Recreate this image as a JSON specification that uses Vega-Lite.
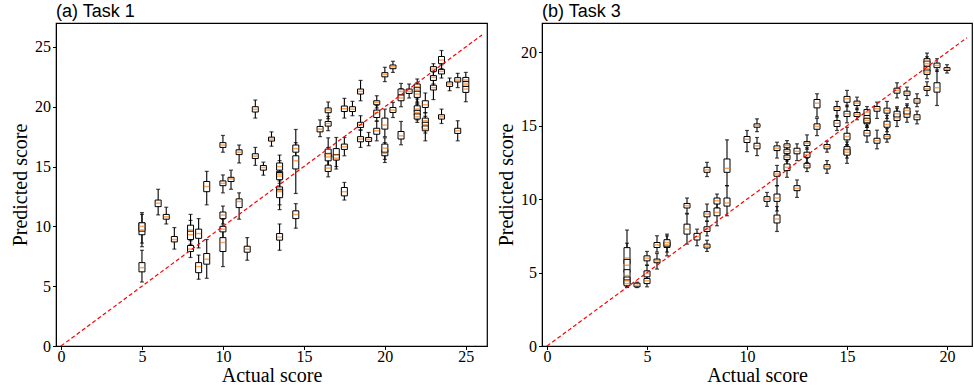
{
  "$schema": "https://vega.github.io/schema/vega-lite/v6.json",
  "background": "white",
  "padding": {"left": 9, "top": 2, "right": 1, "bottom": 2},
  "spacing": 7,
  "config": {
    "view": {"stroke": "black", "strokeWidth": 1.2},
    "axis": {"grid": false, "domainColor": "black", "tickColor": "black", "tickSize": 3.5, "labelFont": "Liberation Serif", "labelFontSize": 16, "labelColor": "black", "titleFont": "Liberation Serif", "titleFontSize": 20, "titleFontWeight": "normal", "titleColor": "black", "labelPadding": 2, "titlePadding": 4},
    "axisX": {"labelPadding": -1, "titlePadding": 1},
    "title": {"font": "Liberation Sans", "fontSize": 18, "fontWeight": "normal", "color": "black", "anchor": "start", "frame": "group", "offset": 2}
  },
  "datasets": {
    "t1": [
      {"x": 5, "lo": 8.3, "q1": 9.3, "med": 9.7, "q3": 10.3, "hi": 11.15},
      {"x": 5, "lo": 8.6, "q1": 9.6, "med": 10.0, "q3": 10.3, "hi": 11.0},
      {"x": 5, "lo": 5.35, "q1": 6.2, "med": 6.55, "q3": 6.97, "hi": 8.0},
      {"x": 6, "lo": 10.96, "q1": 11.65, "med": 11.94, "q3": 12.2, "hi": 13.1},
      {"x": 6.5, "lo": 10.2, "q1": 10.6, "med": 10.8, "q3": 11.0, "hi": 11.6},
      {"x": 7, "lo": 8.1, "q1": 8.7, "med": 8.9, "q3": 9.15, "hi": 9.9},
      {"x": 8, "lo": 8.5, "q1": 9.3, "med": 9.7, "q3": 10.1, "hi": 11.0},
      {"x": 8, "lo": 8.0, "q1": 8.9, "med": 9.3, "q3": 9.6, "hi": 10.5},
      {"x": 8, "lo": 7.4, "q1": 7.9, "med": 8.1, "q3": 8.4, "hi": 8.8},
      {"x": 8.5, "lo": 8.2, "q1": 9.0, "med": 9.4, "q3": 9.77, "hi": 10.65},
      {"x": 8.5, "lo": 5.58, "q1": 6.13, "med": 6.64, "q3": 6.97, "hi": 7.6},
      {"x": 9, "lo": 11.8, "q1": 12.9, "med": 13.33, "q3": 13.75, "hi": 14.6},
      {"x": 9, "lo": 5.66, "q1": 6.84, "med": 7.25, "q3": 7.73, "hi": 8.9},
      {"x": 10, "lo": 16.2, "q1": 16.6, "med": 16.8, "q3": 17.0, "hi": 17.6},
      {"x": 10, "lo": 12.8, "q1": 13.4, "med": 13.6, "q3": 13.8, "hi": 14.3},
      {"x": 10, "lo": 10.2, "q1": 10.65, "med": 10.94, "q3": 11.2, "hi": 11.7},
      {"x": 10, "lo": 9.0, "q1": 9.54, "med": 9.77, "q3": 10.0, "hi": 10.6},
      {"x": 10, "lo": 6.64, "q1": 7.9, "med": 8.65, "q3": 9.06, "hi": 10.0},
      {"x": 10.5, "lo": 13.1, "q1": 13.75, "med": 13.97, "q3": 14.1, "hi": 14.7},
      {"x": 11, "lo": 15.3, "q1": 16.0, "med": 16.2, "q3": 16.4, "hi": 16.8},
      {"x": 11, "lo": 10.6, "q1": 11.57, "med": 12.08, "q3": 12.3, "hi": 12.8},
      {"x": 11.5, "lo": 7.17, "q1": 7.84, "med": 8.1, "q3": 8.34, "hi": 9.06},
      {"x": 12, "lo": 19.05, "q1": 19.56, "med": 19.78, "q3": 20.0, "hi": 20.56},
      {"x": 12, "lo": 15.1, "q1": 15.67, "med": 15.87, "q3": 16.07, "hi": 16.6},
      {"x": 12.5, "lo": 14.28, "q1": 14.7, "med": 14.92, "q3": 15.09, "hi": 15.37},
      {"x": 13, "lo": 16.7, "q1": 17.13, "med": 17.3, "q3": 17.46, "hi": 17.9},
      {"x": 13.5, "lo": 13.8, "q1": 14.7, "med": 15.0, "q3": 15.3, "hi": 15.96},
      {"x": 13.5, "lo": 13.0, "q1": 14.0, "med": 14.37, "q3": 14.6, "hi": 15.5},
      {"x": 13.5, "lo": 12.5, "q1": 13.9, "med": 14.2, "q3": 14.5, "hi": 15.2},
      {"x": 13.5, "lo": 11.4, "q1": 12.6, "med": 13.0, "q3": 13.3, "hi": 14.0},
      {"x": 13.5, "lo": 11.8, "q1": 12.4, "med": 12.9, "q3": 13.1, "hi": 13.6},
      {"x": 13.5, "lo": 8.0, "q1": 8.85, "med": 9.1, "q3": 9.4, "hi": 10.2},
      {"x": 14.5, "lo": 15.0, "q1": 16.2, "med": 16.5, "q3": 16.8, "hi": 18.1},
      {"x": 14.5, "lo": 12.75, "q1": 14.8, "med": 15.48, "q3": 15.9, "hi": 17.0},
      {"x": 14.5, "lo": 9.85, "q1": 10.65, "med": 10.99, "q3": 11.3, "hi": 11.9},
      {"x": 16, "lo": 17.5, "q1": 17.9, "med": 18.13, "q3": 18.35, "hi": 18.9},
      {"x": 16.5, "lo": 19.0, "q1": 19.5, "med": 19.72, "q3": 19.9, "hi": 20.4},
      {"x": 16.5, "lo": 18.0, "q1": 18.38, "med": 18.6, "q3": 18.77, "hi": 19.2},
      {"x": 16.5, "lo": 15.0, "q1": 15.8, "med": 16.04, "q3": 16.46, "hi": 17.4},
      {"x": 16.5, "lo": 14.8, "q1": 15.48, "med": 15.8, "q3": 16.1, "hi": 16.6},
      {"x": 16.5, "lo": 14.14, "q1": 14.59, "med": 14.87, "q3": 15.12, "hi": 15.6},
      {"x": 17, "lo": 15.0, "q1": 15.7, "med": 15.96, "q3": 16.5, "hi": 17.43},
      {"x": 17, "lo": 14.79, "q1": 15.54, "med": 15.7, "q3": 16.0, "hi": 16.5},
      {"x": 17.5, "lo": 19.05, "q1": 19.6, "med": 19.83, "q3": 20.06, "hi": 20.7},
      {"x": 17.5, "lo": 15.9, "q1": 16.43, "med": 16.65, "q3": 16.88, "hi": 17.43},
      {"x": 17.5, "lo": 12.2, "q1": 12.55, "med": 12.9, "q3": 13.25, "hi": 13.67},
      {"x": 18, "lo": 19.25, "q1": 19.6, "med": 19.8, "q3": 20.0, "hi": 20.45},
      {"x": 18.5, "lo": 20.5, "q1": 21.06, "med": 21.28, "q3": 21.48, "hi": 22.2},
      {"x": 18.5, "lo": 18.05, "q1": 18.27, "med": 18.5, "q3": 18.7, "hi": 19.25},
      {"x": 18.5, "lo": 16.6, "q1": 17.07, "med": 17.3, "q3": 17.5, "hi": 18.05},
      {"x": 19, "lo": 16.74, "q1": 17.1, "med": 17.27, "q3": 17.43, "hi": 17.85},
      {"x": 19.5, "lo": 19.9, "q1": 20.17, "med": 20.36, "q3": 20.5, "hi": 20.92},
      {"x": 19.5, "lo": 18.8, "q1": 19.1, "med": 19.52, "q3": 19.72, "hi": 20.1},
      {"x": 19.5, "lo": 17.15, "q1": 17.7, "med": 17.99, "q3": 18.2, "hi": 18.8},
      {"x": 20, "lo": 22.1, "q1": 22.5, "med": 22.7, "q3": 22.85, "hi": 23.3},
      {"x": 20, "lo": 17.5, "q1": 18.13, "med": 18.47, "q3": 19.05, "hi": 19.8},
      {"x": 20, "lo": 15.34, "q1": 15.9, "med": 16.1, "q3": 16.4, "hi": 17.0},
      {"x": 20, "lo": 15.6, "q1": 16.2, "med": 16.54, "q3": 16.88, "hi": 17.4},
      {"x": 20.5, "lo": 22.87, "q1": 23.18, "med": 23.35, "q3": 23.49, "hi": 23.8},
      {"x": 20.5, "lo": 19.1, "q1": 19.52, "med": 19.72, "q3": 19.94, "hi": 20.36},
      {"x": 21, "lo": 20.0, "q1": 20.5, "med": 20.73, "q3": 21.0, "hi": 21.5},
      {"x": 21, "lo": 20.6, "q1": 21.0, "med": 21.28, "q3": 21.48, "hi": 21.95},
      {"x": 21, "lo": 16.82, "q1": 17.3, "med": 17.57, "q3": 17.93, "hi": 18.77},
      {"x": 21.5, "lo": 20.73, "q1": 21.11, "med": 21.28, "q3": 21.48, "hi": 21.9},
      {"x": 22, "lo": 21.2, "q1": 21.5, "med": 21.67, "q3": 21.9, "hi": 22.32},
      {"x": 22, "lo": 20.4, "q1": 21.2, "med": 21.4, "q3": 21.6, "hi": 22.0},
      {"x": 22, "lo": 20.3, "q1": 20.78, "med": 21.06, "q3": 21.3, "hi": 21.7},
      {"x": 22, "lo": 19.2, "q1": 19.6, "med": 19.8, "q3": 20.08, "hi": 20.64},
      {"x": 22, "lo": 18.9, "q1": 19.3, "med": 19.52, "q3": 19.7, "hi": 20.2},
      {"x": 22, "lo": 18.69, "q1": 18.97, "med": 19.16, "q3": 19.4, "hi": 19.8},
      {"x": 22.5, "lo": 19.5, "q1": 19.94, "med": 20.17, "q3": 20.5, "hi": 21.15},
      {"x": 22.5, "lo": 18.3, "q1": 18.6, "med": 18.83, "q3": 19.05, "hi": 19.5},
      {"x": 22.5, "lo": 17.8, "q1": 18.2, "med": 18.5, "q3": 18.7, "hi": 19.2},
      {"x": 22.5, "lo": 17.15, "q1": 17.99, "med": 18.13, "q3": 18.4, "hi": 18.9},
      {"x": 23, "lo": 22.6, "q1": 22.96, "med": 23.15, "q3": 23.35, "hi": 23.6},
      {"x": 23, "lo": 21.9, "q1": 22.2, "med": 22.45, "q3": 22.6, "hi": 22.9},
      {"x": 23, "lo": 20.6, "q1": 21.4, "med": 21.6, "q3": 21.8, "hi": 22.2},
      {"x": 23.5, "lo": 23.2, "q1": 23.6, "med": 23.9, "q3": 24.2, "hi": 24.7},
      {"x": 23.5, "lo": 22.4, "q1": 22.74, "med": 22.96, "q3": 23.12, "hi": 23.5},
      {"x": 23.5, "lo": 18.6, "q1": 18.97, "med": 19.16, "q3": 19.33, "hi": 19.8},
      {"x": 24, "lo": 21.34, "q1": 21.7, "med": 21.9, "q3": 22.07, "hi": 22.4},
      {"x": 24.5, "lo": 21.6, "q1": 22.07, "med": 22.23, "q3": 22.43, "hi": 22.79},
      {"x": 24.5, "lo": 17.15, "q1": 17.77, "med": 17.99, "q3": 18.2, "hi": 18.83},
      {"x": 25, "lo": 21.8, "q1": 22.1, "med": 22.23, "q3": 22.45, "hi": 22.87},
      {"x": 25, "lo": 21.2, "q1": 21.7, "med": 21.9, "q3": 22.1, "hi": 22.4},
      {"x": 25, "lo": 20.42, "q1": 21.2, "med": 21.48, "q3": 21.7, "hi": 22.1}
    ],
    "t3": [
      {"x": 4, "lo": 4.4, "q1": 5.6, "med": 6.0, "q3": 6.7, "hi": 7.9},
      {"x": 4, "lo": 4.2, "q1": 5.0, "med": 5.5, "q3": 5.9, "hi": 7.0},
      {"x": 4, "lo": 4.0, "q1": 4.5, "med": 4.8, "q3": 5.2, "hi": 6.0},
      {"x": 4, "lo": 4.0, "q1": 4.2, "med": 4.44, "q3": 4.7, "hi": 5.3},
      {"x": 4, "lo": 4.0, "q1": 4.1, "med": 4.25, "q3": 4.5, "hi": 5.0},
      {"x": 4.5, "lo": 3.98, "q1": 4.03, "med": 4.14, "q3": 4.28, "hi": 4.35},
      {"x": 5, "lo": 5.5, "q1": 5.8, "med": 5.98, "q3": 6.14, "hi": 6.44},
      {"x": 5, "lo": 4.4, "q1": 4.71, "med": 4.94, "q3": 5.12, "hi": 5.5},
      {"x": 5, "lo": 4.03, "q1": 4.25, "med": 4.44, "q3": 4.6, "hi": 4.9},
      {"x": 5.5, "lo": 6.4, "q1": 6.71, "med": 6.89, "q3": 7.05, "hi": 7.51},
      {"x": 5.5, "lo": 5.24, "q1": 5.67, "med": 5.8, "q3": 5.92, "hi": 6.3},
      {"x": 6, "lo": 6.14, "q1": 6.71, "med": 6.89, "q3": 7.1, "hi": 7.5},
      {"x": 6, "lo": 6.4, "q1": 6.8, "med": 7.05, "q3": 7.24, "hi": 7.62},
      {"x": 7, "lo": 9.03, "q1": 9.4, "med": 9.56, "q3": 9.71, "hi": 10.08},
      {"x": 7, "lo": 6.94, "q1": 7.62, "med": 7.96, "q3": 8.3, "hi": 8.99},
      {"x": 7.5, "lo": 6.83, "q1": 7.22, "med": 7.46, "q3": 7.67, "hi": 7.96},
      {"x": 8, "lo": 11.54, "q1": 11.83, "med": 11.99, "q3": 12.17, "hi": 12.51},
      {"x": 8, "lo": 8.5, "q1": 8.8, "med": 8.99, "q3": 9.15, "hi": 9.67},
      {"x": 8, "lo": 7.5, "q1": 7.8, "med": 7.96, "q3": 8.12, "hi": 8.5},
      {"x": 8, "lo": 6.44, "q1": 6.67, "med": 6.8, "q3": 6.94, "hi": 7.2},
      {"x": 8.5, "lo": 9.4, "q1": 9.67, "med": 9.9, "q3": 10.08, "hi": 10.35},
      {"x": 8.5, "lo": 8.19, "q1": 8.87, "med": 9.1, "q3": 9.4, "hi": 9.8},
      {"x": 9, "lo": 10.92, "q1": 11.83, "med": 12.1, "q3": 12.74, "hi": 14.04},
      {"x": 9, "lo": 8.87, "q1": 9.53, "med": 9.74, "q3": 10.08, "hi": 10.92},
      {"x": 10, "lo": 13.24, "q1": 13.86, "med": 14.08, "q3": 14.27, "hi": 14.68},
      {"x": 10.5, "lo": 14.6, "q1": 14.9, "med": 15.02, "q3": 15.13, "hi": 15.47},
      {"x": 10.5, "lo": 12.97, "q1": 13.43, "med": 13.63, "q3": 13.81, "hi": 14.2},
      {"x": 11, "lo": 9.51, "q1": 9.85, "med": 10.01, "q3": 10.17, "hi": 10.46},
      {"x": 11.5, "lo": 12.8, "q1": 13.31, "med": 13.47, "q3": 13.63, "hi": 13.88},
      {"x": 11.5, "lo": 10.92, "q1": 11.56, "med": 11.72, "q3": 11.88, "hi": 12.3},
      {"x": 11.5, "lo": 9.2, "q1": 9.85, "med": 10.08, "q3": 10.35, "hi": 10.92},
      {"x": 11.5, "lo": 7.8, "q1": 8.38, "med": 8.65, "q3": 8.92, "hi": 9.5},
      {"x": 12, "lo": 13.1, "q1": 13.5, "med": 13.65, "q3": 13.77, "hi": 13.99},
      {"x": 12, "lo": 12.6, "q1": 13.1, "med": 13.26, "q3": 13.4, "hi": 13.7},
      {"x": 12, "lo": 12.2, "q1": 12.7, "med": 12.85, "q3": 13.0, "hi": 13.3},
      {"x": 12, "lo": 11.49, "q1": 11.95, "med": 12.17, "q3": 12.4, "hi": 12.8},
      {"x": 12.5, "lo": 12.63, "q1": 13.09, "med": 13.26, "q3": 13.47, "hi": 13.77},
      {"x": 12.5, "lo": 10.12, "q1": 10.58, "med": 10.74, "q3": 10.92, "hi": 11.31},
      {"x": 13, "lo": 13.4, "q1": 13.65, "med": 13.81, "q3": 13.92, "hi": 14.38},
      {"x": 13, "lo": 12.5, "q1": 12.85, "med": 13.02, "q3": 13.2, "hi": 13.5},
      {"x": 13, "lo": 11.88, "q1": 12.13, "med": 12.29, "q3": 12.44, "hi": 12.8},
      {"x": 13.5, "lo": 15.6, "q1": 16.22, "med": 16.54, "q3": 16.79, "hi": 17.18},
      {"x": 13.5, "lo": 14.33, "q1": 14.76, "med": 14.95, "q3": 15.13, "hi": 15.5},
      {"x": 14, "lo": 13.2, "q1": 13.43, "med": 13.58, "q3": 13.72, "hi": 13.95},
      {"x": 14, "lo": 11.76, "q1": 12.06, "med": 12.22, "q3": 12.35, "hi": 12.63},
      {"x": 14.5, "lo": 15.6, "q1": 16.04, "med": 16.2, "q3": 16.31, "hi": 16.66},
      {"x": 14.5, "lo": 14.68, "q1": 14.95, "med": 15.17, "q3": 15.36, "hi": 15.7},
      {"x": 15, "lo": 16.3, "q1": 16.6, "med": 16.84, "q3": 17.0, "hi": 17.41},
      {"x": 15, "lo": 15.2, "q1": 15.63, "med": 15.82, "q3": 15.99, "hi": 16.4},
      {"x": 15, "lo": 13.7, "q1": 14.04, "med": 14.27, "q3": 14.49, "hi": 14.9},
      {"x": 15, "lo": 12.44, "q1": 13.04, "med": 13.36, "q3": 13.58, "hi": 13.9},
      {"x": 15, "lo": 12.8, "q1": 13.0, "med": 13.2, "q3": 13.4, "hi": 13.7},
      {"x": 15.5, "lo": 16.1, "q1": 16.38, "med": 16.54, "q3": 16.68, "hi": 16.95},
      {"x": 15.5, "lo": 15.41, "q1": 15.63, "med": 15.77, "q3": 15.9, "hi": 16.2},
      {"x": 16, "lo": 15.5, "q1": 15.7, "med": 15.93, "q3": 16.11, "hi": 16.31},
      {"x": 16, "lo": 14.9, "q1": 15.13, "med": 15.54, "q3": 15.7, "hi": 16.0},
      {"x": 16, "lo": 14.9, "q1": 15.2, "med": 15.36, "q3": 15.5, "hi": 15.8},
      {"x": 16, "lo": 13.88, "q1": 14.31, "med": 14.49, "q3": 14.68, "hi": 15.0},
      {"x": 16.5, "lo": 15.5, "q1": 15.99, "med": 16.16, "q3": 16.31, "hi": 16.61},
      {"x": 16.5, "lo": 13.43, "q1": 13.81, "med": 13.99, "q3": 14.15, "hi": 14.7},
      {"x": 17, "lo": 15.5, "q1": 15.86, "med": 16.04, "q3": 16.2, "hi": 16.66},
      {"x": 17, "lo": 14.6, "q1": 14.9, "med": 15.09, "q3": 15.31, "hi": 15.7},
      {"x": 17, "lo": 13.88, "q1": 14.11, "med": 14.27, "q3": 14.4, "hi": 14.8},
      {"x": 17.5, "lo": 16.9, "q1": 17.22, "med": 17.41, "q3": 17.56, "hi": 17.93},
      {"x": 17.5, "lo": 14.95, "q1": 15.36, "med": 15.54, "q3": 15.8, "hi": 16.2},
      {"x": 17.5, "lo": 15.4, "q1": 15.6, "med": 15.82, "q3": 15.99, "hi": 16.3},
      {"x": 18, "lo": 16.8, "q1": 17.07, "med": 17.22, "q3": 17.36, "hi": 17.63},
      {"x": 18, "lo": 15.24, "q1": 15.58, "med": 15.77, "q3": 16.0, "hi": 16.4},
      {"x": 18, "lo": 15.6, "q1": 15.8, "med": 16.04, "q3": 16.22, "hi": 16.5},
      {"x": 18.5, "lo": 16.3, "q1": 16.54, "med": 16.68, "q3": 16.84, "hi": 17.18},
      {"x": 18.5, "lo": 15.13, "q1": 15.41, "med": 15.58, "q3": 15.75, "hi": 16.0},
      {"x": 19, "lo": 19.2, "q1": 19.3, "med": 19.41, "q3": 19.57, "hi": 19.95},
      {"x": 19, "lo": 18.9, "q1": 19.05, "med": 19.23, "q3": 19.4, "hi": 19.7},
      {"x": 19, "lo": 18.5, "q1": 18.7, "med": 18.89, "q3": 19.05, "hi": 19.4},
      {"x": 19, "lo": 18.2, "q1": 18.5, "med": 18.66, "q3": 18.8, "hi": 19.1},
      {"x": 19, "lo": 17.06, "q1": 17.41, "med": 17.52, "q3": 17.68, "hi": 18.0},
      {"x": 19.5, "lo": 18.7, "q1": 18.96, "med": 19.11, "q3": 19.27, "hi": 19.57},
      {"x": 19.5, "lo": 16.38, "q1": 17.29, "med": 17.59, "q3": 17.93, "hi": 18.8},
      {"x": 20, "lo": 18.59, "q1": 18.77, "med": 18.86, "q3": 18.96, "hi": 19.16}
    ]
  },
  "hconcat": [
    {
      "width": 431,
      "height": 323,
      "title": {"text": "(a) Task 1"},
      "encoding": {
        "x": {"field": "x", "type": "quantitative", "scale": {"domain": [0, 26], "nice": false, "zero": false}, "axis": {"values": [0, 5, 10, 15, 20, 25], "title": "Actual score"}}
      },
      "layer": [
        {"data": {"name": "t1"}, "mark": {"type": "rule", "color": "black", "strokeWidth": 1.1},
         "encoding": {"y": {"field": "lo", "type": "quantitative", "scale": {"domain": [0, 27], "nice": false}, "axis": {"values": [0, 5, 10, 15, 20, 25], "title": "Predicted score"}}, "y2": {"field": "hi"}}},
        {"data": {"name": "t1"}, "mark": {"type": "tick", "orient": "horizontal", "color": "black", "size": 4, "thickness": 1.2},
         "encoding": {"y": {"field": "lo", "type": "quantitative", "title": "Predicted score"}}},
        {"data": {"name": "t1"}, "mark": {"type": "tick", "orient": "horizontal", "color": "black", "size": 4, "thickness": 1.2},
         "encoding": {"y": {"field": "hi", "type": "quantitative", "title": "Predicted score"}}},
        {"data": {"name": "t1"}, "mark": {"type": "bar", "size": 6, "fill": "white", "stroke": "black", "strokeWidth": 1},
         "encoding": {"y": {"field": "q1", "type": "quantitative", "title": "Predicted score"}, "y2": {"field": "q3"}}},
        {"data": {"name": "t1"}, "mark": {"type": "tick", "orient": "horizontal", "color": "#ff7f0e", "size": 5, "thickness": 1.5},
         "encoding": {"y": {"field": "med", "type": "quantitative", "title": "Predicted score"}}},
        {"data": {"values": [{"x": 0, "y": 0}, {"x": 26, "y": 26}]}, "mark": {"type": "line", "color": "#ff0000", "strokeWidth": 1.2, "strokeDash": [4, 2.5], "clip": true},
         "encoding": {"y": {"field": "y", "type": "quantitative", "title": "Predicted score"}}}
      ]
    },
    {
      "width": 430,
      "height": 323,
      "title": {"text": "(b) Task 3"},
      "encoding": {
        "x": {"field": "x", "type": "quantitative", "scale": {"domain": [0, 21], "nice": false, "zero": false}, "axis": {"values": [0, 5, 10, 15, 20], "title": "Actual score"}}
      },
      "layer": [
        {"data": {"name": "t3"}, "mark": {"type": "rule", "color": "black", "strokeWidth": 1.1},
         "encoding": {"y": {"field": "lo", "type": "quantitative", "scale": {"domain": [0, 22], "nice": false}, "axis": {"values": [0, 5, 10, 15, 20], "title": "Predicted score"}}, "y2": {"field": "hi"}}},
        {"data": {"name": "t3"}, "mark": {"type": "tick", "orient": "horizontal", "color": "black", "size": 4, "thickness": 1.2},
         "encoding": {"y": {"field": "lo", "type": "quantitative", "title": "Predicted score"}}},
        {"data": {"name": "t3"}, "mark": {"type": "tick", "orient": "horizontal", "color": "black", "size": 4, "thickness": 1.2},
         "encoding": {"y": {"field": "hi", "type": "quantitative", "title": "Predicted score"}}},
        {"data": {"name": "t3"}, "mark": {"type": "bar", "size": 6, "fill": "white", "stroke": "black", "strokeWidth": 1},
         "encoding": {"y": {"field": "q1", "type": "quantitative", "title": "Predicted score"}, "y2": {"field": "q3"}}},
        {"data": {"name": "t3"}, "mark": {"type": "tick", "orient": "horizontal", "color": "#ff7f0e", "size": 5, "thickness": 1.5},
         "encoding": {"y": {"field": "med", "type": "quantitative", "title": "Predicted score"}}},
        {"data": {"values": [{"x": 0, "y": 0}, {"x": 21, "y": 21}]}, "mark": {"type": "line", "color": "#ff0000", "strokeWidth": 1.2, "strokeDash": [4, 2.5], "clip": true},
         "encoding": {"y": {"field": "y", "type": "quantitative", "title": "Predicted score"}}}
      ]
    }
  ]
}
